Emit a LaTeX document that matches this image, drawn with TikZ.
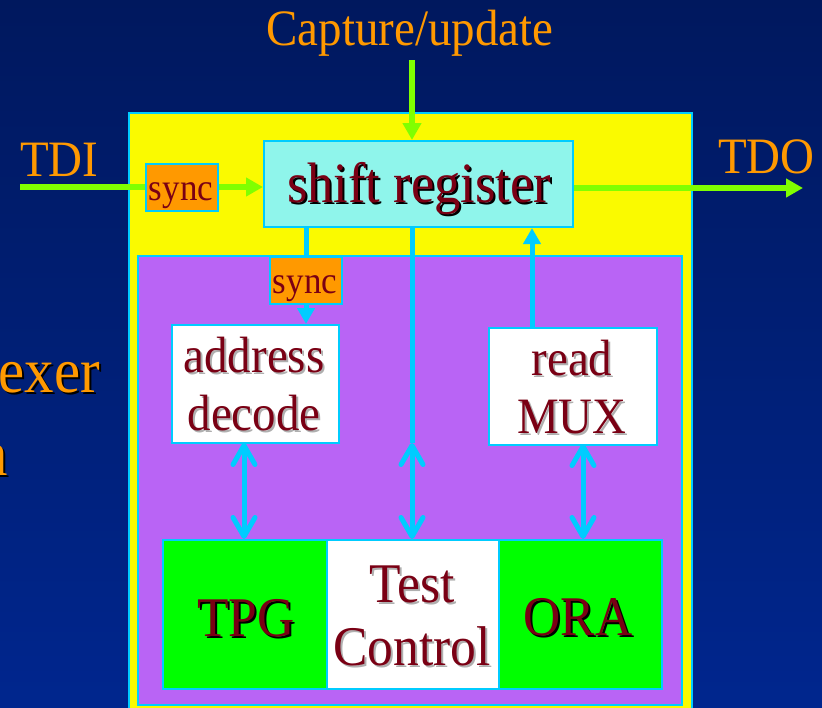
\documentclass[tikz,border=0pt]{standalone}
\usepackage{fontspec}
\setmainfont{Liberation Serif}[FakeStretch=0.92]
\usetikzlibrary{arrows.meta}

\definecolor{bgtop}{RGB}{0,24,94}
\definecolor{bgbot}{RGB}{0,38,142}
\definecolor{edge}{RGB}{0,204,255}
\definecolor{outerfill}{RGB}{250,250,0}
\definecolor{innerfill}{RGB}{185,100,245}
\definecolor{regfill}{RGB}{143,245,235}
\definecolor{syncfill}{RGB}{255,153,0}
\definecolor{unitfill}{RGB}{0,255,0}
\definecolor{sig}{RGB}{128,255,0}
\definecolor{ctl}{RGB}{0,204,255}
\definecolor{dred}{RGB}{122,0,20}
\definecolor{lbl}{RGB}{255,153,0}
\definecolor{shgray}{RGB}{175,175,175}

% text with a drop shadow behind it
\newcommand\shd[2]{\leavevmode\rlap{\hspace{2pt}\raisebox{-2pt}{\textcolor{#1}{#2}}}#2}
\newcommand\fs[1]{\fontsize{#1}{#1}\selectfont}

\tikzset{
  blk/.style={draw=edge, line width=2pt, inner sep=0pt, anchor=north west},
  txt/.style={text=dred, inner sep=0pt, anchor=base},
  lbltxt/.style={text=lbl, inner sep=0pt},
  gline/.style={draw=sig, line width=6pt},
  cline/.style={draw=ctl, line width=5pt},
  gtip/.style={-{Triangle[length=17pt,width=18pt]}},
  ctip/.style={-{Triangle[length=16pt,width=17pt]}},
  vtips/.style={{Straight Barb[length=19pt,width=22pt,line cap=round,line join=round]}-{Straight Barb[length=19pt,width=22pt,line cap=round,line join=round]}, line cap=round},
}

\begin{document}
\begin{tikzpicture}[x=1pt,y=-1pt]
\useasboundingbox (0,0) rectangle (822,707);
\clip (0,0) rectangle (822,707);
\fill[top color=bgtop, bottom color=bgbot] (0,0) rectangle (822,707);

% text of the slide running off the left edge
\node[lbltxt, anchor=base east] (mux-word) at (100,392) {\fs{64}\shd{black}{exer}};
\node[lbltxt, anchor=base east] (n-word) at (8,475) {\fs{64}\shd{black}{n}};

% containers
\node[blk, fill=outerfill, minimum width=563, minimum height=610] (outer) at (128,112) {};
\node[blk, fill=innerfill, minimum width=544, minimum height=449] (inner) at (137,255) {};

% blocks
\node[blk, fill=regfill, minimum width=309, minimum height=86] (sr) at (263,140) {};
\node[blk, fill=syncfill, minimum width=72, minimum height=47] (sync1) at (145,163) {};
\node[blk, fill=syncfill, minimum width=72, minimum height=47] (sync2) at (269,256) {};
\node[blk, fill=white, minimum width=167, minimum height=118] (addr) at (171,324) {};
\node[blk, fill=white, minimum width=168, minimum height=117] (mux) at (488,327) {};
\node[blk, fill=unitfill, minimum width=164, minimum height=149] (tpg) at (162,539) {};
\node[blk, fill=unitfill, minimum width=163, minimum height=149] (ora) at (498,539) {};
\node[blk, fill=white, minimum width=172, minimum height=149] (tc) at (326,539) {};

% block texts
\node[txt] (sr-t) at (419,202) {\fs{57}\shd{black}{shift register}};
\node[txt] (sync1-t) at (181,200) {\fs{38}sync};
\node[txt] (sync2-t) at (305,293) {\fs{38}sync};
\node[txt] (addr-t1) at (254,372) {\fs{51}\shd{shgray}{address}};
\node[txt] (addr-t2) at (254,430) {\fs{51}\shd{shgray}{decode}};
\node[txt] (mux-t1) at (572,375) {\fs{51}\shd{shgray}{read}};
\node[txt] (mux-t2) at (572,433) {\fs{51}\shd{shgray}{MUX}};
\node[txt] (tc-t1) at (412,602) {\fs{56}\shd{shgray}{Test}};
\node[txt] (tc-t2) at (412,665) {\fs{56}\shd{shgray}{Control}};
\node[txt] (tpg-t) at (246,636) {\fs{56}\shd{black}{TPG}};
\node[txt] (ora-t) at (578,635) {\fs{56}\shd{black}{ORA}};

% port labels
\node[lbltxt, anchor=base] (cap-t) at (410,45) {\fs{51}Capture/update};
\node[lbltxt, anchor=base west] (tdi-t) at (20,176) {\fs{51}TDI};
\node[lbltxt, anchor=base west] (tdo-t) at (718,173) {\fs{51}TDO};

% scan signals
\coordinate (capsrc) at (412,60);
\coordinate (tdisrc) at (20,187);
\coordinate (tdoend) at (803,188);
\draw[gline, gtip] (capsrc) -- (capsrc |- sr.north);
\draw[gline] (tdisrc) -- (tdisrc -| sync1.west);
\draw[gline, gtip] (tdisrc -| sync1.east) -- (tdisrc -| sr.west);
\draw[gline, gtip] (tdoend -| sr.east) -- (tdoend);

% control paths
\coordinate (muxup) at (532,327);
\coordinate (midv) at (412,443);
\coordinate (ldbl) at (244,443);
\coordinate (rdbl) at (583,444);
\draw[cline] (sync2.north) -- (sync2.north |- sr.south);
\draw[cline, ctip] (sync2.south) -- (sync2.south |- addr.north);
\draw[cline, ctip] (muxup |- mux.north) -- (muxup |- sr.south);
\draw[cline] (midv |- sr.south) -- (midv);
\draw[cline, vtips] (midv) -- (midv |- tc.north);
\draw[cline, vtips] (ldbl) -- (ldbl |- tpg.north);
\draw[cline, vtips] (rdbl) -- (rdbl |- ora.north);
\end{tikzpicture}
\end{document}
